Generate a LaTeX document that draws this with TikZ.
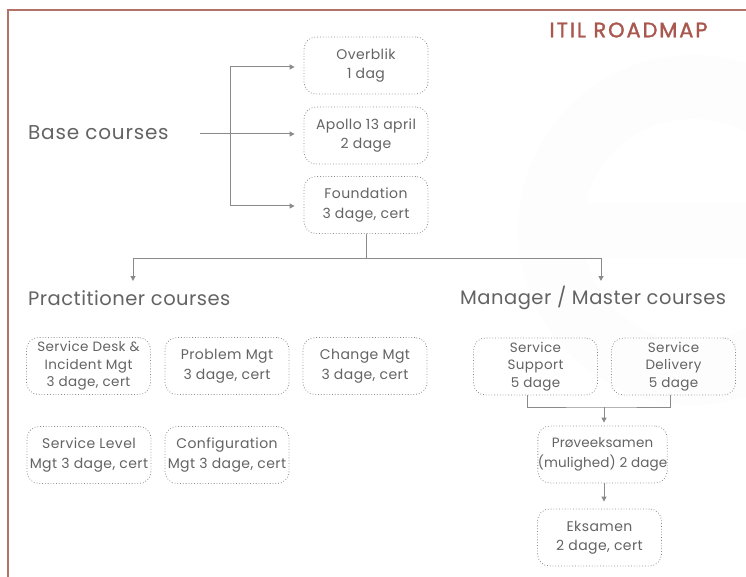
\documentclass[tikz,border=0pt]{standalone}
\usepackage{fontspec}
\setmainfont{Poppins}
\usetikzlibrary{arrows.meta}
\definecolor{frame}{HTML}{B27268}
\definecolor{titlec}{HTML}{A8584E}
\definecolor{txt}{HTML}{636363}
\definecolor{ln}{HTML}{8A8A8A}
\definecolor{wm}{HTML}{FDFDFD}
\tikzset{
  course/.style={draw=ln, dotted, line width=0.8pt, rounded corners=12pt,
    minimum width=124pt, minimum height=57pt, inner sep=0pt, align=center,
    text=txt, font=\fontsize{14}{19.5}\selectfont\addfontfeature{LetterSpace=3}},
  course3/.style={course, font=\fontsize{13.5}{17.5}\selectfont\addfontfeature{LetterSpace=3}},
  heading/.style={text=txt, font=\fontsize{19.5}{22}\selectfont\addfontfeature{LetterSpace=2.5}, inner sep=0pt, anchor=west},
  arr/.style={draw=ln, line width=1pt, -{Triangle[length=5pt,width=5pt]}},
  lnk/.style={draw=ln, line width=1pt},
}
\begin{document}
\begin{tikzpicture}[x=1pt,y=-1pt]
\useasboundingbox (0,0) rectangle (746,577);
\begin{scope}
\clip (0,0) rectangle (746,577);
% faint watermark e
\draw[wm, line width=64pt] (693,230) ++(45:143) arc[start angle=45, end angle=360, radius=143];
\fill[wm] (582,203) rectangle (760,258);
\end{scope}
% frame
\draw[frame, line width=2.5pt] (8,577) -- (8,10) -- (746,10);
\node[text=titlec, font=\fontsize{21}{23}\selectfont\addfontfeature{LetterSpace=9,FakeBold=1.6}, inner sep=0pt] (title) at (628.5,30) {ITIL ROADMAP};
% base courses
\node[heading, font=\fontsize{20}{22}\selectfont\addfontfeature{LetterSpace=4}] (base) at (28,133) {Base courses};
\node[course] (over) at (366,65.5) {Overblik\\1 dag};
\node[course] (apollo) at (366,135.5) {Apollo 13 april\\2 dage};
\node[course] (found) at (366,205) {Foundation\\3 dage, cert};
\coordinate (bs) at (200,134);
\coordinate (bk) at (230,134);
\draw[arr, shorten >=9pt] (bs) -- (bs -| apollo.west);
\draw[arr, shorten >=9pt] (bk) |- ([yshift=-1.5pt]over.west);
\draw[arr, shorten >=9pt] (bk) |- ([yshift=-1pt]found.west);
% split
\coordinate (j) at (366,258);
\coordinate (pa) at (133,281);
\coordinate (ma) at (601,281);
\draw[lnk] (found.south) -- (j);
\draw[arr] (j) -| (pa);
\draw[arr] (j) -| (ma);
\node[heading] (prac) at (28,298) {Practitioner courses};
\node[heading] (mgr) at (460,298) {Manager / Master courses};
% practitioner
\node[course3] (desk) at (88.5,366) {Service Desk \&\\Incident Mgt\\3 dage, cert};
\node[course] (prob) at (227,366) {Problem Mgt\\3 dage, cert};
\node[course] (chg) at (365,366) {Change Mgt\\3 dage, cert};
\node[course] (lvl) at (89,455) {Service Level\\Mgt 3 dage, cert};
\node[course] (cfg) at (227,455) {Configuration\\Mgt 3 dage, cert};
% manager
\node[course3] (sup) at (535.5,366.5) {Service\\Support\\5 dage};
\node[course3] (del) at (673.5,366.5) {Service\\Delivery\\5 dage};
\node[course, font=\fontsize{13.5}{19.5}\selectfont\addfontfeature{LetterSpace=1}] (prove) at (602.5,454.5) {Prøveeksamen\\(mulighed) 2 dage};
\node[course] (eks) at (599.5,537.5) {Eksamen\\2 dage, cert};
\coordinate (mj) at (604,407);
\draw[lnk] ([xshift=-8.5pt]sup.south) |- (mj) -| ([xshift=-3.5pt]del.south);
\draw[arr, shorten >=3pt] (mj) -- (mj |- prove.north);
\draw[arr, shorten >=7pt] (mj |- prove.south) -- (mj |- eks.north);
\end{tikzpicture}
\end{document}
